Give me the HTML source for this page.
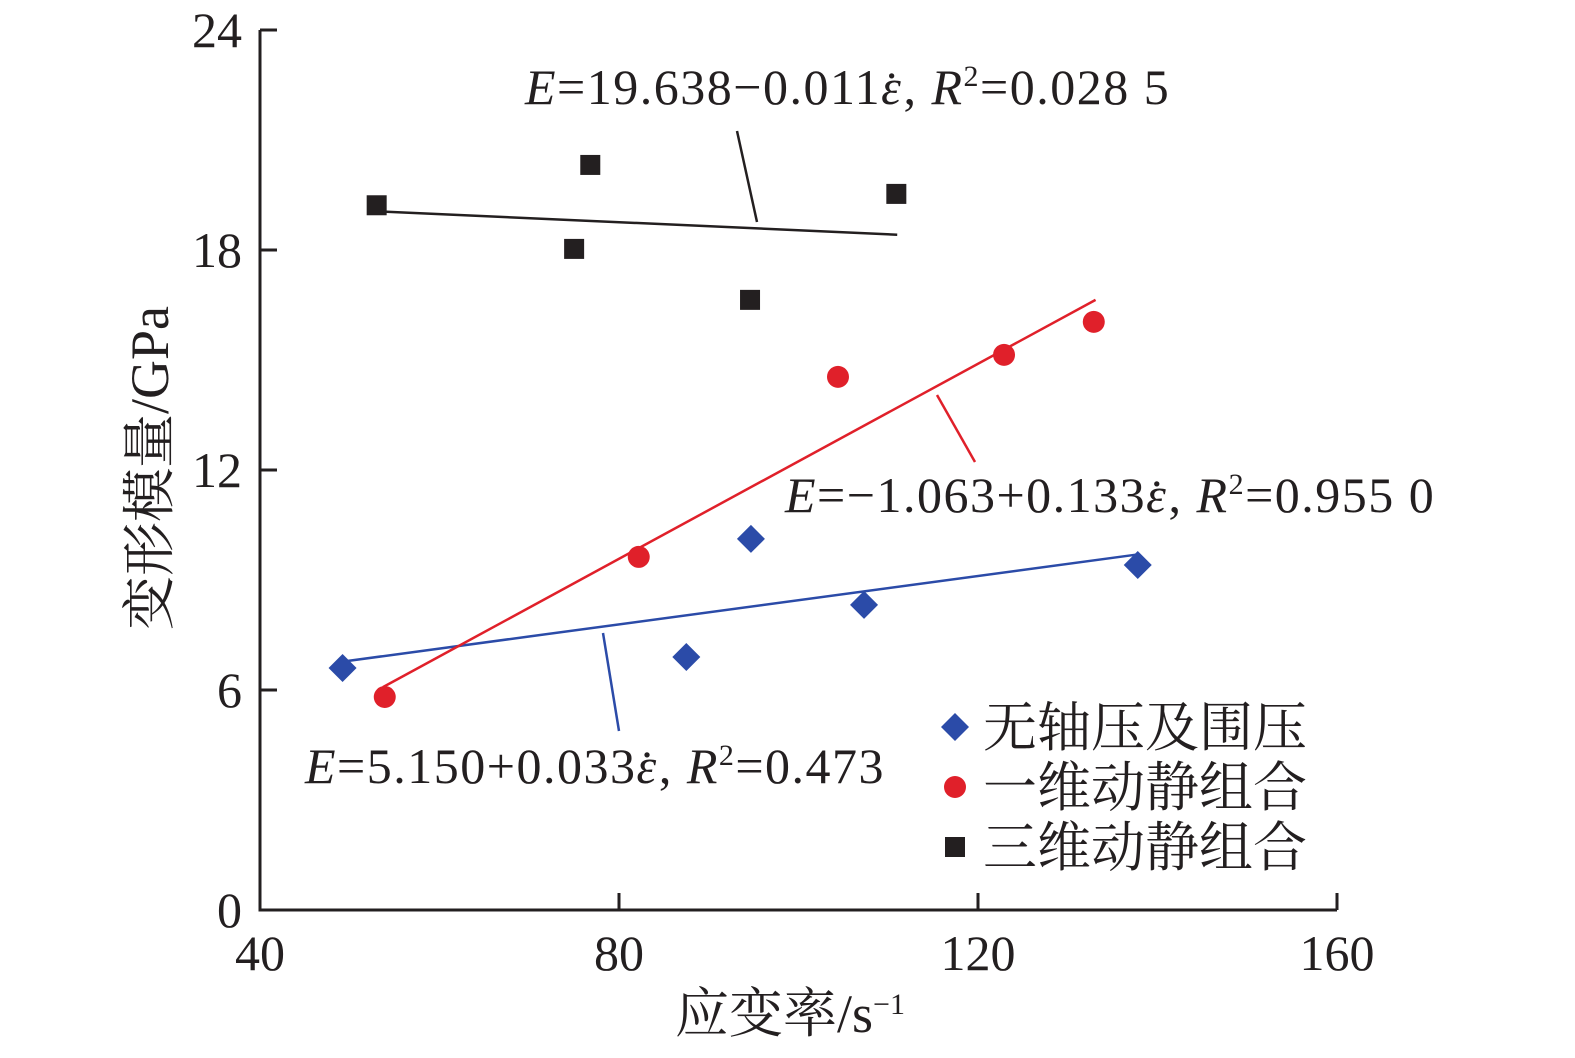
<!DOCTYPE html>
<html><head><meta charset="utf-8"><style>
body{margin:0;background:#fff}
svg text{font-family:"Liberation Serif","Noto Serif CJK SC",serif;fill:#231f20}
</style></head><body>
<svg id="chart" width="1575" height="1053" viewBox="0 0 1575 1053" xmlns="http://www.w3.org/2000/svg"></svg>
<script>
const xTicks=[40,80,120,160];
const yTicks=[0,6,12,18,24];
const blueX=[49.2,87.5,94.7,107.3,137.8];
const blueY=[6.60,6.90,10.12,8.32,9.41];
const redX=[53.9,82.2,104.4,122.9,132.9];
const redY=[5.81,9.63,14.54,15.14,16.04];
const blackX=[53.0,76.8,75.0,94.6,110.9];
const blackY=[19.22,20.32,18.03,16.64,19.53];
const blueFit=[5.150,0.033,48.9,137.8];
const redFit=[-1.063,0.133,53.7,133.1];
const blackFit=[19.638,-0.011,53.0,111.0];

const svg=document.getElementById('chart');
const NS='http://www.w3.org/2000/svg';
const X=v=>260+(v-40)*(1077/120);
const Y=v=>910-v*(880/24);
function mk(tag,attrs,parent){const e=document.createElementNS(NS,tag);for(const k in attrs)e.setAttribute(k,attrs[k]);(parent||svg).appendChild(e);return e;}

let e=mk('path',{d:`M${X(40)} ${Y(24)} V${Y(0)} H${X(160)}`,stroke:'#231f20','stroke-width':3,fill:'none'});


xTicks.forEach(t=>{
 let l=mk('line',{x1:X(t),x2:X(t),y1:Y(0),y2:Y(0)-17,stroke:'#231f20','stroke-width':3});
 
 
 let tx=mk('text',{x:X(t),y:970,'font-size':50,'text-anchor':'middle'});tx.textContent=t;
 
 
});
yTicks.forEach(t=>{
 let l=mk('line',{x1:X(40),x2:X(40)+17,y1:Y(t),y2:Y(t),stroke:'#231f20','stroke-width':3});
 
 
 let tx=mk('text',{x:242,y:Y(t)+17,'font-size':50,'text-anchor':'end'});tx.textContent=t;
 
 
});
let xt=mk('text',{x:790,y:1032,'font-size':54,'text-anchor':'middle'});
xt.innerHTML='应变率/s<tspan dy="-18" font-size="30">−1</tspan>';


let yt=mk('text',{x:0,y:0,'font-size':54,'text-anchor':'middle',transform:'translate(168,468) rotate(-90)'});
yt.textContent='变形模量/GPa';



function fit(f,color,name){
 let l=mk('line',{x1:X(f[2]),y1:Y(f[0]+f[1]*f[2]),x2:X(f[3]),y2:Y(f[0]+f[1]*f[3]),stroke:color,'stroke-width':2.5});
 
 
}
fit(blueFit,'#2b4ba8','blue-fit-line');
fit(redFit,'#e0202a','red-fit-line');
fit(blackFit,'#231f20','black-fit-line');

[[737,131,757,222,'#231f20'],[937,395,975,462,'#e0202a'],[603,633,619,731,'#2b4ba8']].forEach(a=>{
 let l=mk('line',{x1:a[0],y1:a[1],x2:a[2],y2:a[3],stroke:a[4],'stroke-width':2.5});
 
 
});

blueX.forEach((v,i)=>{
 const cx=X(v),cy=Y(blueY[i]);
 let p=mk('path',{d:`M${cx} ${cy-14} L${cx+14} ${cy} L${cx} ${cy+14} L${cx-14} ${cy} Z`,fill:'#2b4ba8'});
 
 
});
redX.forEach((v,i)=>{
 let p=mk('circle',{cx:X(v),cy:Y(redY[i]),r:11,fill:'#e0202a'});
 
 
});
blackX.forEach((v,i)=>{
 let p=mk('rect',{x:X(v)-10,y:Y(blackY[i])-10,width:20,height:20,fill:'#231f20'});
 
 
});

const EPS='<tspan font-style="italic">ε</tspan><tspan dx="-19" dy="2" font-style="normal">˙</tspan><tspan dx="2" dy="-2">, </tspan>';
function eq(x,y,a,b,name){
 let t=mk('text',{x:x,y:y,'font-size':50,'letter-spacing':1.5});
 t.innerHTML='<tspan font-style="italic">E</tspan>'+a+EPS+'<tspan font-style="italic">R</tspan><tspan dy="-18" font-size="30">2</tspan><tspan dy="18">'+b+'</tspan>';
 
 
}
eq(525,104,'=19.638−0.011','=0.028 5','black-equation');
eq(785,512,'=−1.063+0.133','=0.955 0','red-equation');
eq(305,783,'=5.150+0.033','=0.473','blue-equation');

let g=mk('g',{});


mk('path',{d:'M955 713 L969 727 L955 741 L941 727 Z',fill:'#2b4ba8'},g);
mk('circle',{cx:955,cy:787,r:11,fill:'#e0202a'},g);
mk('rect',{x:945,y:837,width:20,height:20,fill:'#231f20'},g);
[['无轴压及围压',746],['一维动静组合',806],['三维动静组合',866]].forEach(a=>{
 let t=mk('text',{x:983,y:a[1],'font-size':54},g);t.textContent=a[0];
 
 
});
</script>
</body></html>
